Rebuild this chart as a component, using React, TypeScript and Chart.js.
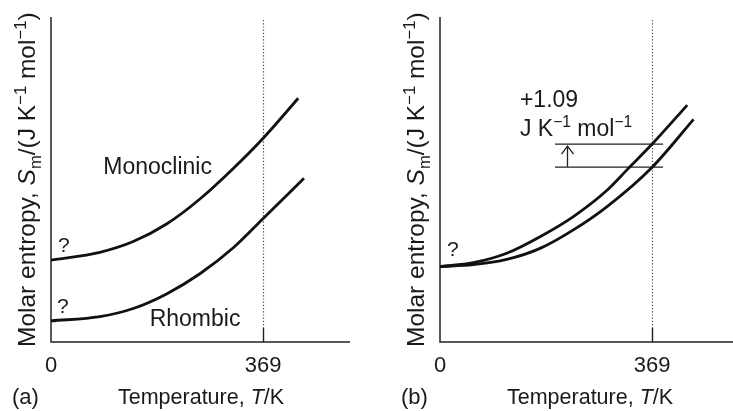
import React, { useEffect, useRef } from "react";
import { Chart, registerables } from "chart.js";
Chart.register(...registerables);

const FONT = '"Liberation Sans", Arial, Helvetica, sans-serif';

// axis ranges (arbitrary entropy units)
const X_MIN = 0;
const X_MAX = 520;
const Y_MIN = 0;
const Y_MAX = 100;
const xTickValues = [0, 369];
const xTickLabels = ["0", "369"];
const transitionT = 369;

// panel (a)
const monoT = [0, 85, 143, 201, 259, 317, 369, 430];
const monoS = [25.2, 27.6, 30.9, 36.3, 44.0, 53.4, 62.7, 75];
const rhombT = [0, 85, 143, 201, 259, 317, 369, 440];
const rhombS = [6.5, 7.8, 10.3, 14.8, 21.0, 29.0, 38.0, 50.4];

// panel (b)
const upperT = [0, 58, 116, 174, 232, 290, 328, 369, 430];
const upperS = [23.2, 24.4, 27.3, 32.4, 38.6, 46.6, 53.5, 60.9, 72.9];
const lowerT = [0, 58, 116, 174, 232, 290, 369, 441];
const lowerS = [23.2, 23.8, 25.4, 28.8, 34.5, 41.6, 53.8, 68.5];
const deltaLineT = [200, 388];
const deltaArrowT = 220;
const deltaValue = "+1.09";

type Seg = { t: string; k?: "it" | "sup" | "sub" };

const yTitle: Seg[] = [
  { t: "Molar entropy, " },
  { t: "S", k: "it" },
  { t: "m", k: "sub" },
  { t: "/(J K" },
  { t: "\u22121", k: "sup" },
  { t: " mol" },
  { t: "\u22121", k: "sup" },
  { t: ")" },
];
const xTitle: Seg[] = [{ t: "Temperature, " }, { t: "T", k: "it" }, { t: "/K" }];
const unitLabel: Seg[] = [
  { t: "J K" },
  { t: "\u22121", k: "sup" },
  { t: " mol" },
  { t: "\u22121", k: "sup" },
];

function segFont(s: Seg, size: number) {
  const small = s.k === "sup" || s.k === "sub";
  const fs = small ? size * 0.68 : size;
  return `${s.k === "it" ? "italic " : ""}${fs}px ${FONT}`;
}
function drawRich(ctx: CanvasRenderingContext2D, segs: Seg[], x: number, y: number, size: number) {
  let cx = x;
  ctx.textBaseline = "alphabetic";
  ctx.textAlign = "left";
  for (const s of segs) {
    ctx.font = segFont(s, size);
    const dy = s.k === "sup" ? -size * 0.38 : s.k === "sub" ? size * 0.25 : 0;
    ctx.fillText(s.t, cx, y + dy);
    cx += ctx.measureText(s.t).width;
  }
}

type TextItem = { segs: Seg[]; T: number; S: number; size: number };

function makePlugin(panelLabel: string, texts: TextItem[], delta: boolean) {
  return {
    id: "decor" + panelLabel.replace(/[()]/g, ""),
    beforeDatasetsDraw(chart: any) {
      const ctx: CanvasRenderingContext2D = chart.ctx;
      const xs = chart.scales.x;
      const ys = chart.scales.y;
      const area = chart.chartArea;
      ctx.save();
      // dotted transition line
      const xt = Math.round(xs.getPixelForValue(transitionT)) + 0.5;
      ctx.strokeStyle = "#444";
      ctx.lineWidth = 1.2;
      ctx.setLineDash([1.2, 2]);
      ctx.beginPath();
      ctx.moveTo(xt, area.top + 3);
      ctx.lineTo(xt, area.bottom - 14);
      ctx.stroke();
      ctx.setLineDash([]);
      // tick at transition
      ctx.strokeStyle = "#222";
      ctx.lineWidth = 1.4;
      ctx.beginPath();
      ctx.moveTo(xt, area.bottom - 14);
      ctx.lineTo(xt, area.bottom);
      ctx.stroke();
      // axes
      ctx.lineWidth = 1.5;
      ctx.strokeStyle = "#222";
      ctx.beginPath();
      ctx.moveTo(area.left, area.top);
      ctx.lineTo(area.left, area.bottom);
      ctx.lineTo(area.right, area.bottom);
      ctx.stroke();

      if (delta) {
        const y1 = ys.getPixelForValue(upperS[upperT.indexOf(transitionT)]);
        const y2 = ys.getPixelForValue(lowerS[lowerT.indexOf(transitionT)]);
        const xa = xs.getPixelForValue(deltaLineT[0]);
        const xb = xs.getPixelForValue(deltaLineT[1]);
        ctx.lineWidth = 1.3;
        ctx.strokeStyle = "#222";
        ctx.beginPath();
        ctx.moveTo(xa, y1);
        ctx.lineTo(xb, y1);
        ctx.moveTo(xa, y2);
        ctx.lineTo(xb, y2);
        const ax = Math.round(xs.getPixelForValue(deltaArrowT)) + 0.5;
        ctx.moveTo(ax, y2);
        ctx.lineTo(ax, y1 + 2);
        ctx.moveTo(ax - 6, y1 + 10);
        ctx.lineTo(ax, y1 + 2);
        ctx.lineTo(ax + 6, y1 + 10);
        ctx.stroke();
      }
      ctx.restore();
    },
    afterDatasetsDraw(chart: any) {
      const ctx: CanvasRenderingContext2D = chart.ctx;
      const xs = chart.scales.x;
      const ys = chart.scales.y;
      const area = chart.chartArea;
      ctx.save();
      ctx.fillStyle = "#1a1a1a";
      // tick labels
      ctx.font = `22px ${FONT}`;
      ctx.textAlign = "center";
      ctx.textBaseline = "alphabetic";
      xTickValues.forEach((v, i) => {
        ctx.fillText(xTickLabels[i], xs.getPixelForValue(v), area.bottom + 30);
      });
      // x title
      drawRich(ctx, xTitle, 118, 404, 21.5);
      ctx.font = `22px ${FONT}`;
      ctx.textAlign = "left";
      ctx.fillText(panelLabel, 12, 404);
      // y title
      ctx.save();
      ctx.translate(35, 347);
      ctx.rotate(-Math.PI / 2);
      drawRich(ctx, yTitle, 0, 0, 24.5);
      ctx.restore();
      // annotations
      texts.forEach((it) => {
        drawRich(ctx, it.segs, xs.getPixelForValue(it.T), ys.getPixelForValue(it.S), it.size);
      });
      ctx.restore();
    },
  };
}

function pts(T: number[], S: number[]) {
  return T.map((t, i) => ({ x: t, y: S[i] }));
}

function Panel(props: { label: string; series: { T: number[]; S: number[] }[]; texts: TextItem[]; delta: boolean }) {
  const ref = useRef<HTMLCanvasElement | null>(null);
  useEffect(() => {
    if (!ref.current) return;
    const chart = new Chart(ref.current, {
      type: "line",
      data: {
        datasets: props.series.map((s) => ({
          data: pts(s.T, s.S),
          borderColor: "#111",
          borderWidth: 2.8,
          pointRadius: 0,
          fill: false,
          cubicInterpolationMode: "monotone" as const,
        })),
      },
      options: {
        responsive: false,
        animation: false,
        devicePixelRatio: 1,
        events: [],
        layout: { padding: { left: 51, right: 39, top: 17, bottom: 69 } },
        scales: {
          x: { type: "linear", min: X_MIN, max: X_MAX, display: false },
          y: { type: "linear", min: Y_MIN, max: Y_MAX, display: false },
        },
        plugins: { legend: { display: false }, tooltip: { enabled: false } },
      },
      plugins: [makePlugin(props.label, props.texts, props.delta)],
    } as any);
    return () => chart.destroy();
  }, []);
  return <canvas ref={ref} width={389} height={411} style={{ display: "block" }} />;
}

export default function App() {
  const textsA: TextItem[] = [
    { segs: [{ t: "?" }], T: 12, S: 27.7, size: 21 },
    { segs: [{ t: "?" }], T: 10.4, S: 8.9, size: 21 },
    { segs: [{ t: "Monoclinic" }], T: 91, S: 51.7, size: 23 },
    { segs: [{ t: "Rhombic" }], T: 171.6, S: 4.9, size: 23 },
  ];
  const textsB: TextItem[] = [
    { segs: [{ t: "?" }], T: 12, S: 26.5, size: 21 },
    { segs: [{ t: deltaValue }], T: 139, S: 72.3, size: 23 },
    { segs: unitLabel, T: 139, S: 63.5, size: 23 },
  ];
  return (
    <div style={{ position: "absolute", left: 0, top: 0, width: 733, height: 411, overflow: "hidden", background: "#fff" }}>
      <div style={{ position: "absolute", left: 0, top: 0 }}>
        <Panel label="(a)" series={[{ T: monoT, S: monoS }, { T: rhombT, S: rhombS }]} texts={textsA} delta={false} />
      </div>
      <div style={{ position: "absolute", left: 389, top: 0 }}>
        <Panel label="(b)" series={[{ T: upperT, S: upperS }, { T: lowerT, S: lowerS }]} texts={textsB} delta={true} />
      </div>
    </div>
  );
}
